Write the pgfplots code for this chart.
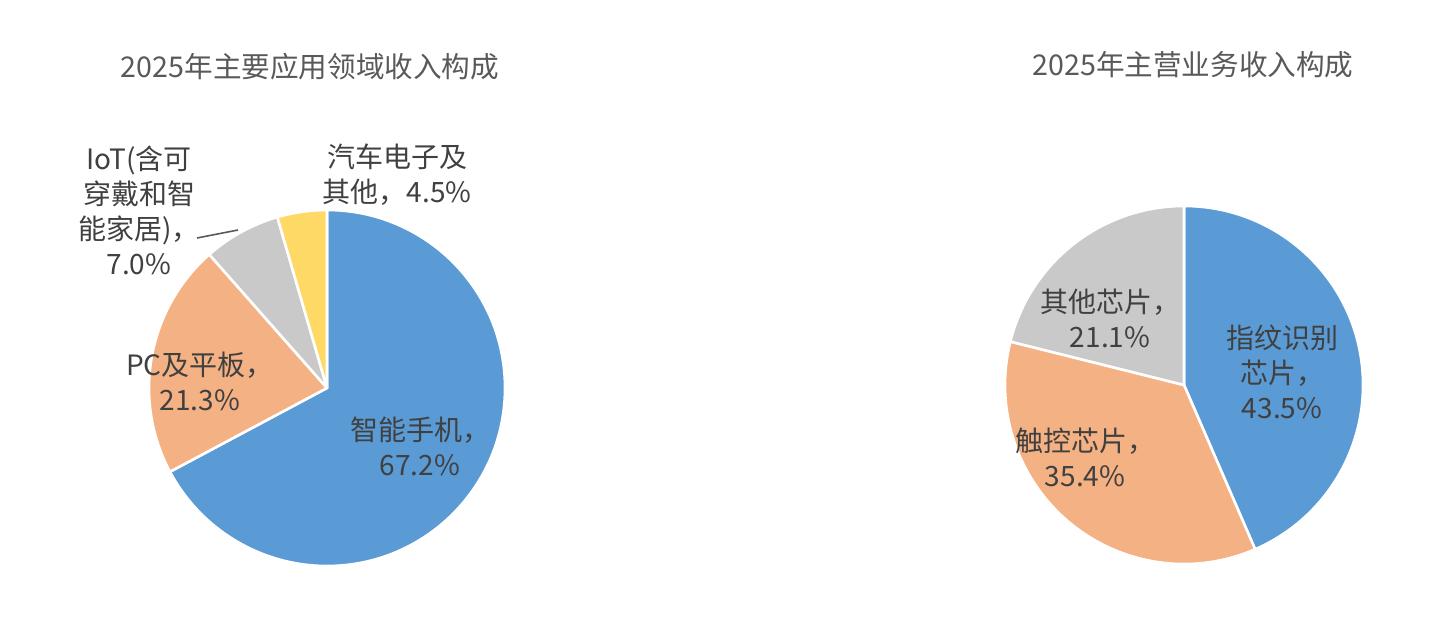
\documentclass[border=0pt]{standalone}
\usepackage{fontspec}
\usepackage{pgfplots}
\usepackage{pgfplotstable}
\pgfplotsset{compat=1.18}
\setmainfont{Noto Sans CJK SC}

\definecolor{pieblue}{HTML}{5B9BD5}
\definecolor{pieorange}{HTML}{F4B183}
\definecolor{piegray}{HTML}{C9C9C9}
\definecolor{pieyellow}{HTML}{FFD966}
\definecolor{titlegray}{HTML}{595959}
\definecolor{labelgray}{HTML}{404040}

% share of revenue, in percent, clockwise from 12 o'clock
\pgfplotstableread{
pct   col
67.2  pieblue
21.3  pieorange
7.0   piegray
4.5   pieyellow
}\appdata
\pgfplotstableread{
pct   col
43.5  pieblue
35.4  pieorange
21.1  piegray
}\bizdata

% #1 table, #2 radius
\newcommand\pieslices[2]{%
  \pgfplotstablegetrowsof{#1}%
  \pgfmathtruncatemacro\nrows{\pgfplotsretval-1}%
  \def\startang{90}%
  \pgfplotsforeachungrouped \i in {0,...,\nrows}{%
    \pgfplotstablegetelem{\i}{pct}\of{#1}\let\pct\pgfplotsretval
    \pgfplotstablegetelem{\i}{col}\of{#1}\let\col\pgfplotsretval
    \pgfmathsetmacro\endang{\startang-3.6*\pct}%
    \edef\temp{\noexpand\fill[fill=\col, draw=white, line width=1.3pt, line join=round]
      (axis cs:0,0) -- ++(\startang:#2) arc[start angle=\startang, end angle=\endang, radius=#2] -- cycle;}%
    \temp
    \global\let\startang\endang
  }}

\pgfplotsset{pie/.style={
  hide axis, scale only axis, clip=false,
  xmin=-1, xmax=1, ymin=-1, ymax=1,
  anchor=center}}

\begin{document}
\begin{tikzpicture}[x=0.5pt, y=-0.5pt,
  lab/.style={font=\fontsize{14}{17.5}\selectfont, text=labelgray, align=center, inner sep=0pt},
  ttl/.style={font=\fontsize{14.3}{16}\selectfont, text=titlegray, inner sep=0pt}]
\useasboundingbox (0,0) rectangle (1439,620);

% centres at (327,388) and (1184,385) px, 1px = 0.5pt
\begin{axis}[pie, at={(163.5pt,-194pt)}, width=178pt, height=178pt]
  \pieslices{\appdata}{89pt}
\end{axis}

\begin{axis}[pie, at={(592pt,-192.5pt)}, width=179pt, height=179pt]
  \pieslices{\bizdata}{89.5pt}
\end{axis}

% titles
\node[ttl] at (310,67) {2025年主要应用领域收入构成};
\node[ttl] at (1193,65) {2025年主营业务收入构成};

% left pie labels
\node[lab] at (420,446) {智能手机，\\67.2\%};
\node[lab] at (200,381) {PC及平板，\\21.3\%};
\node[lab] at (139,210) {IoT(含可\\穿戴和智\\能家居)，\\7.0\%};
\node[lab] at (397,175) {汽车电子及\\其他，4.5\%};
\draw[gray!70!black, line width=0.8pt] (197,238) -- (238,230);

% right pie labels
\node[lab] at (1110,318) {其他芯片，\\21.1\%};
\node[lab] at (1282,372) {指纹识别\\芯片，\\43.5\%};
\node[lab] at (1085,457) {触控芯片，\\35.4\%};
\end{tikzpicture}
\end{document}
